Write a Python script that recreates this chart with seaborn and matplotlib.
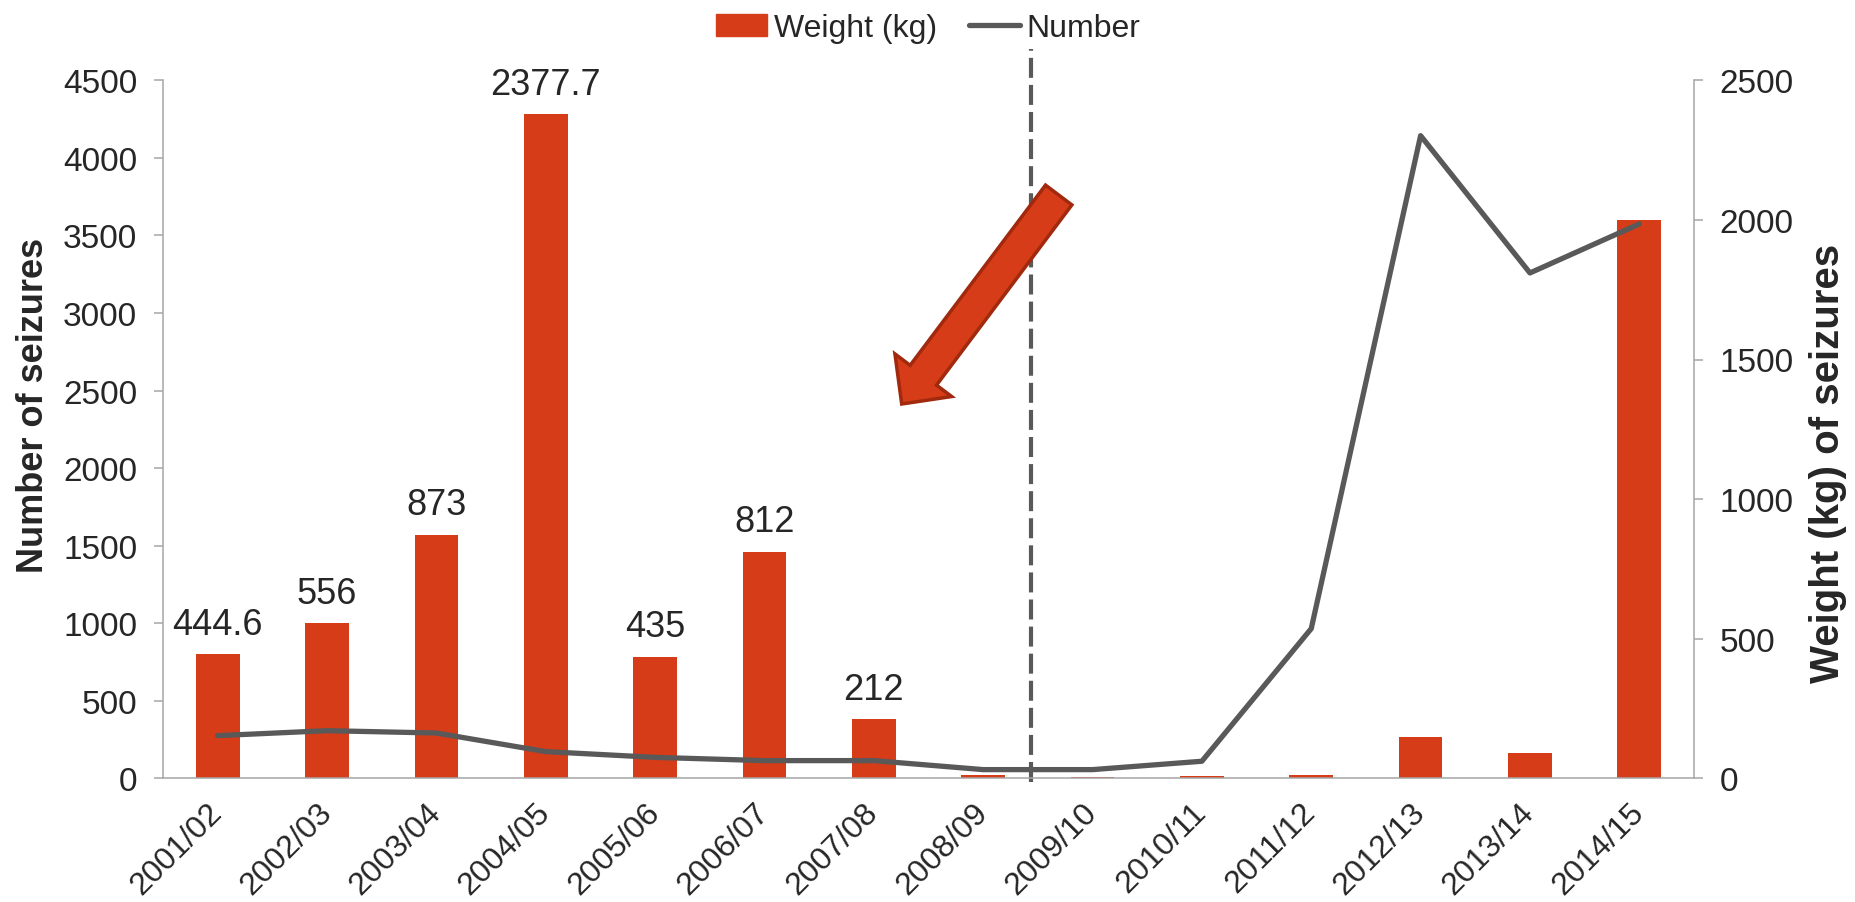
import numpy as np
import pandas as pd
import matplotlib.pyplot as plt
import seaborn as sns
from matplotlib.patches import FancyArrow, Patch
from matplotlib.lines import Line2D

# seizures per season
seasons = ['2001/02', '2002/03', '2003/04', '2004/05', '2005/06', '2006/07', '2007/08',
           '2008/09', '2009/10', '2010/11', '2011/12', '2012/13', '2013/14', '2014/15']
number = [275, 307, 292, 172, 135, 114, 114, 56, 56, 110, 965, 4143, 3258, 3574]
weight = [444.6, 556, 873, 2377.7, 435, 812, 212, 12, 5, 8, 13, 149, 92, 2000]
bar_labels = ['444.6', '556', '873', '2377.7', '435', '812', '212',
              '', '', '', '', '', '', '']

bar_red = '#D63C17'
arrow_edge = '#A0290E'
line_grey = '#595959'
axis_grey = '#A6A6A6'

sns.set_style('white')
plt.rcParams['font.family'] = ['Liberation Sans', 'DejaVu Sans']

df = pd.DataFrame({'season': seasons, 'number': number, 'weight': weight})

W, H = 1856, 903
fig = plt.figure(figsize=(W / 100, H / 100), dpi=100)
ax = fig.add_axes([163 / W, 1 - 779.3 / H, 1531 / W, 698 / H])
ax2 = ax.twinx()

# bars = weight on the right axis, line = number on the left axis
sns.barplot(data=df, x='season', y='weight', color=bar_red, width=0.4,
            saturation=1, linewidth=0, ax=ax2)
sns.lineplot(x=np.arange(len(seasons)), y=df['number'], color=line_grey,
             linewidth=3.8, ax=ax)
ax.lines[0].set_solid_joinstyle('round')
ax.lines[0].set_solid_capstyle('round')

ax.set_zorder(ax2.get_zorder() + 1)
ax.patch.set_visible(False)

for i, lab in enumerate(bar_labels):
    if lab:
        ax2.annotate(lab, (i, weight[i]), xytext=(0, 9), textcoords='offset points',
                     ha='center', va='bottom', fontsize=26)

# dashed separator between 2008/09 and 2009/10
ax.axvline(7.44, ymin=-0.005, ymax=1.045, color=line_grey, lw=3,
           linestyle=(0, (4.8, 1.7)), clip_on=False)

ax.set_xlim(-0.5, len(seasons) - 0.5)
ax.set_ylim(0, 4500)
ax2.set_ylim(0, 2500)
ax.set_yticks(range(0, 4501, 500))
ax2.set_yticks(range(0, 2501, 500))
ax.set_xticks(range(len(seasons)))
ax.set_xticklabels(seasons, rotation=45, ha='right', va='center', rotation_mode='anchor')
ax.set_xticks(np.arange(-0.5, len(seasons), 1), minor=True)
ax.set_xlabel('')
ax.set_ylabel('')
ax2.set_xlabel('')
ax2.set_ylabel('')

ax.tick_params(axis='x', which='major', length=0, pad=21, labelsize=23)
ax.tick_params(axis='x', which='minor', length=6.5, width=1.1, color=axis_grey, direction='out')
ax.tick_params(axis='y', length=6.5, width=1.1, color=axis_grey, pad=12, labelsize=24,
               direction='out', left=True)
ax2.tick_params(axis='y', length=6.5, width=1.1, color=axis_grey, pad=12, labelsize=24,
                direction='out', right=True)

for s in ['top', 'right']:
    ax.spines[s].set_visible(False)
for s in ['top', 'left', 'bottom']:
    ax2.spines[s].set_visible(False)
for s in ['left', 'bottom']:
    ax.spines[s].set_color(axis_grey)
    ax.spines[s].set_linewidth(1.1)
ax2.spines['right'].set_color(axis_grey)
ax2.spines['right'].set_linewidth(1.1)

fig.text(34 / W, 1 - 405 / H, 'Number of seizures', rotation=90, ha='center', va='center',
         fontsize=26, fontweight='bold')
fig.text(1828 / W, 1 - 463 / H, 'Weight (kg) of seizures', rotation=90, ha='center',
         va='center', fontsize=29, fontweight='bold')

handles = [Patch(color=bar_red, label='Weight (kg)'),
           Line2D([], [], color=line_grey, lw=3.8, solid_capstyle='round', label='Number')]
fig.legend(handles=handles, loc='center', bbox_to_anchor=(0.5, 1 - 29 / H), ncol=2,
           frameon=False, fontsize=23, handlelength=1.6, handletextpad=0.2,
           columnspacing=1.0)

# block arrow annotation (inches from the lower-left corner)
arrow = FancyArrow(10.587, (H - 196) / 100, -1.57, -2.09, width=0.33, head_width=0.71,
                   head_length=0.36, length_includes_head=True,
                   transform=fig.dpi_scale_trans, facecolor=bar_red,
                   edgecolor=arrow_edge, linewidth=2.5, zorder=10)
fig.add_artist(arrow)

fig.savefig('out.png', dpi=100)
